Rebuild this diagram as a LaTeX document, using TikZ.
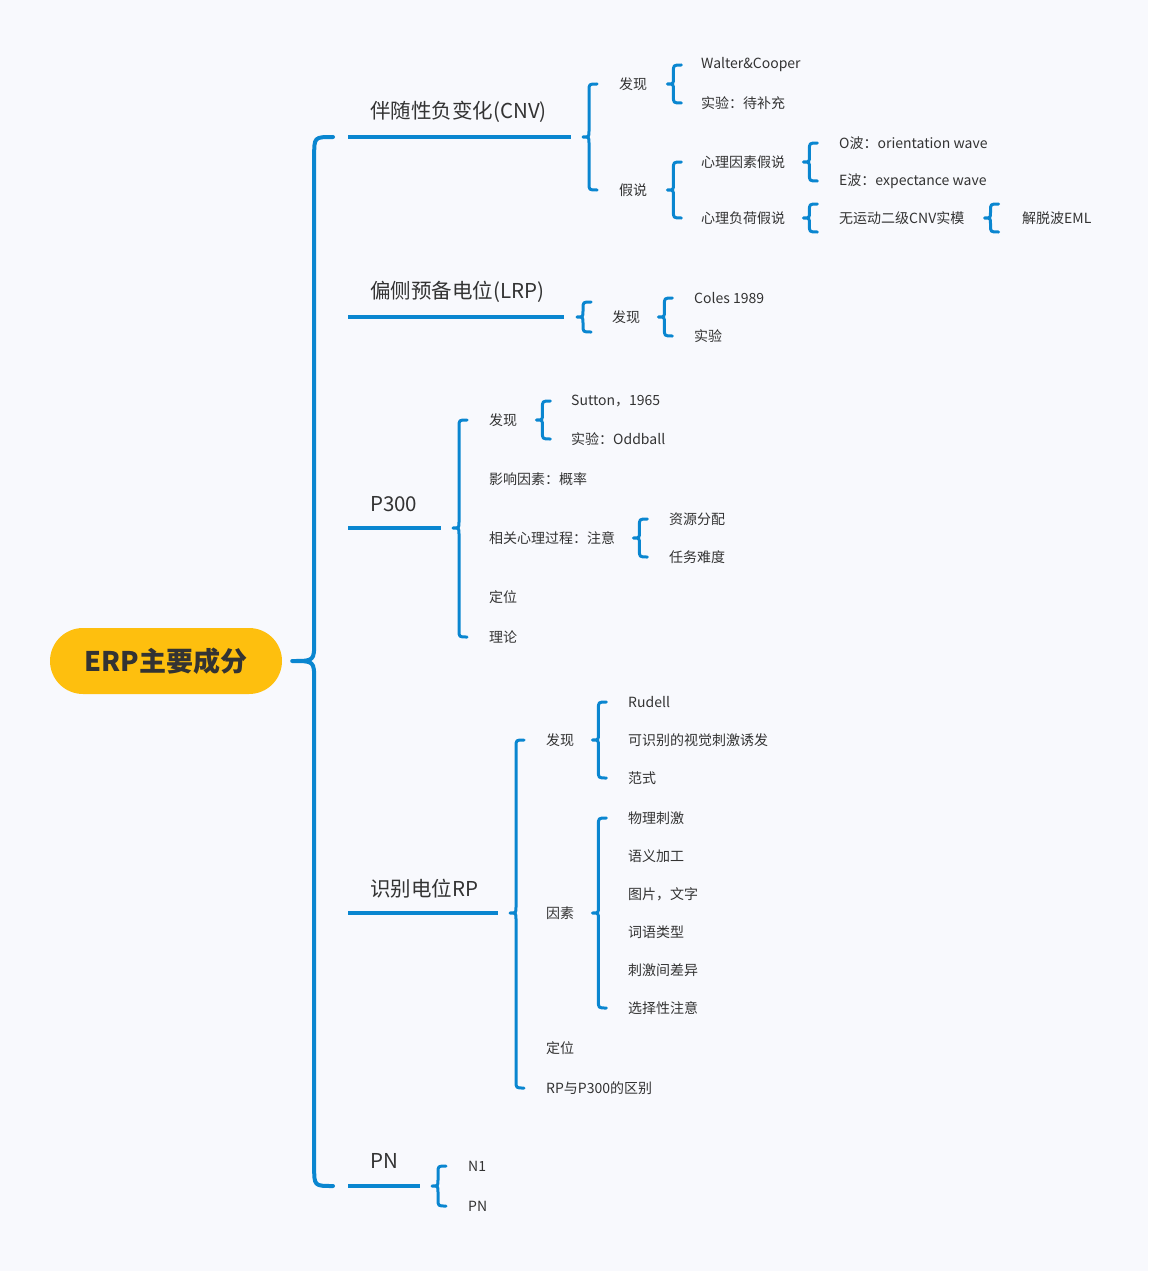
\documentclass[tikz,border=0pt]{standalone}
\usepackage{fontspec}
\setmainfont{Noto Sans CJK SC}
\usetikzlibrary{calc}
\definecolor{bg}{RGB}{248,249,253}
\definecolor{blu}{RGB}{10,134,208}
\definecolor{yel}{RGB}{254,191,14}
\definecolor{txt}{RGB}{51,51,51}
\tikzset{
  t/.style={anchor=west, inner sep=0pt, text=txt, font=\fontsize{14pt}{16pt}\selectfont},
  lvt/.style={anchor=west, inner sep=0pt, text=txt, font=\fontsize{20.5pt}{23pt}\selectfont},
  rootbox/.style={fill=yel, rounded corners=33pt, minimum width=232pt, minimum height=66pt, inner sep=0pt, text=txt, font=\fontsize{27pt}{30pt}\selectfont\bfseries},
  lvline/.style={draw=blu, line width=4pt},
  brc/.style={draw=blu, line width=3pt, line cap=round, line join=round},
  mainbrc/.style={draw=blu, line width=4pt, line cap=round, line join=round}
}
% #1 parent point, #2 gap, #3 top child point, #4 bottom child point, #5 extra half span
\newcommand\brc[5]{%
  \draw[brc] let \p0=#1, \p1=#3, \p2=#4 in
   (\x0+#2+14pt, \y1+#5) .. controls (\x0+#2+6pt,\y1+#5) .. (\x0+#2+6pt,\y1+#5-7pt)
   -- (\x0+#2+6pt, \y0+6pt) .. controls (\x0+#2+6pt,\y0) .. (\x0+#2,\y0)
   .. controls (\x0+#2+6pt,\y0) .. (\x0+#2+6pt,\y0-6pt)
   -- (\x0+#2+6pt, \y2-#5+7pt) .. controls (\x0+#2+6pt,\y2-#5) .. (\x0+#2+14pt,\y2-#5);
}
\begin{document}
\begin{tikzpicture}[x=1pt,y=-1pt]
\fill[bg] (0,0) rectangle (1148,1271);
\useasboundingbox (0,0) rectangle (1148,1271);

% root
\node[rootbox] (root) at (166,661) {ERP主要成分};

% level-1 lines and labels
\coordinate (cnvL) at (348,137); \coordinate (cnvR) at (571,137);
\coordinate (lrpL) at (348,317); \coordinate (lrpR) at (564,317);
\coordinate (p3L) at (348,528);  \coordinate (p3R) at (441,528);
\coordinate (rpL) at (348,913);  \coordinate (rpR) at (498,913);
\coordinate (pnL) at (348,1186); \coordinate (pnR) at (420,1186);
\draw[lvline] (cnvL) -- (cnvR);
\draw[lvline] (lrpL) -- (lrpR);
\draw[lvline] (p3L) -- (p3R);
\draw[lvline] (rpL) -- (rpR);
\draw[lvline] (pnL) -- (pnR);
\node[lvt] (cnv) at (370,112) {伴随性负变化(CNV)};
\node[lvt] (lrp) at (370,292) {偏侧预备电位(LRP)};
\node[lvt] (p300) at (370,504) {P300};
\node[lvt] (rp) at (370,889) {识别电位RP};
\node[lvt] (pn) at (370,1161) {PN};

% main brace
\draw[mainbrc] let \p0=(root.east), \p1=(cnvL), \p2=(pnL) in
  (\x1-15pt,\y1) .. controls (\x0+32pt,\y1) .. (\x0+32pt,\y1-19pt)
  -- (\x0+32pt,\y0+20pt) .. controls (\x0+32pt,\y0) .. (\x0+10pt,\y0)
  .. controls (\x0+32pt,\y0) .. (\x0+32pt,\y0-20pt)
  -- (\x0+32pt,\y2+19pt) .. controls (\x0+32pt,\y2) .. (\x1-15pt,\y2);

% CNV
\node[t] (cf) at (619,84) {发现};
\node[t] (ch) at (619,190) {假说};
\node[t] (cf1) at (701,65) {Walter\&Cooper};
\node[t] (cf2) at (701,103) {实验：待补充};
\node[t] (ch1) at (701,162) {心理因素假说};
\node[t] (ch2) at (701,218) {心理负荷假说};
\node[t] (ow) at (839,143) {O波：orientation wave};
\node[t] (ew) at (839,181) {E波：expectance wave};
\node[t] (wm) at (839,218) {无运动二级CNV实模};
\node[t] (eml) at (1022,218) {解脱波EML};
\brc{(cnvR)}{12pt}{(cf.west)}{(ch.west)}{0pt}
\brc{(cf.east)}{20pt}{(cf1.west)}{(cf2.west)}{0pt}
\brc{(ch.east)}{20pt}{(ch1.west)}{(ch2.west)}{0pt}
\brc{(ch1.east)}{18pt}{(ow.west)}{(ew.west)}{0pt}
\brc{(ch2.east)}{18pt}{(wm.west)}{(wm.west)}{14pt}
\brc{(wm.east)}{20pt}{(eml.west)}{(eml.west)}{14pt}

% LRP
\node[t] (lf) at (612,317) {发现};
\node[t] (l1) at (694,298) {Coles 1989};
\node[t] (l2) at (694,336) {实验};
\brc{(lrpR)}{13pt}{(lf.west)}{(lf.west)}{15pt}
\brc{(lf.east)}{18pt}{(l1.west)}{(l2.west)}{0pt}

% P300
\node[t] (pf) at (489,420) {发现};
\node[t] (pi) at (489,479) {影响因素：概率};
\node[t] (pr) at (489,538) {相关心理过程：注意};
\node[t] (pd) at (489,597) {定位};
\node[t] (pt) at (489,637) {理论};
\node[t] (pf1) at (571,401) {Sutton，1965};
\node[t] (pf2) at (571,439) {实验：Oddball};
\node[t] (pr1) at (669,519) {资源分配};
\node[t] (pr2) at (669,557) {任务难度};
\brc{(p3R)}{12pt}{(pf.west)}{(pt.west)}{0pt}
\brc{(pf.east)}{19pt}{(pf1.west)}{(pf2.west)}{0pt}
\brc{(pr.east)}{18pt}{(pr1.west)}{(pr2.west)}{0pt}

% RP
\node[t] (rf) at (546,740) {发现};
\node[t] (rfa) at (546,913) {因素};
\node[t] (rd) at (546,1048) {定位};
\node[t] (rdiff) at (546,1088) {RP与P300的区别};
\node[t] (rf1) at (628,702) {Rudell};
\node[t] (rf2) at (628,740) {可识别的视觉刺激诱发};
\node[t] (rf3) at (628,778) {范式};
\node[t] (ra1) at (628,818) {物理刺激};
\node[t] (ra2) at (628,856) {语义加工};
\node[t] (ra3) at (628,894) {图片，文字};
\node[t] (ra4) at (628,932) {词语类型};
\node[t] (ra5) at (628,970) {刺激间差异};
\node[t] (ra6) at (628,1008) {选择性注意};
\brc{(rpR)}{12pt}{(rf.west)}{(rdiff.west)}{0pt}
\brc{(rf.east)}{18pt}{(rf1.west)}{(rf3.west)}{0pt}
\brc{(rfa.east)}{18pt}{(ra1.west)}{(ra6.west)}{0pt}

% PN
\node[t] (n1) at (468,1166) {N1};
\node[t] (n2) at (468,1206) {PN};
\brc{(pnR)}{12pt}{(n1.west)}{(n2.west)}{0pt}
\end{tikzpicture}
\end{document}
